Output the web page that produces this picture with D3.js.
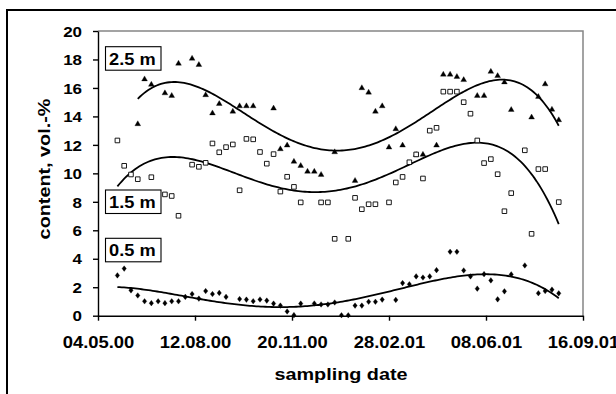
<!DOCTYPE html>
<html>
<head>
<meta charset="utf-8">
<script src="https://cdn.jsdelivr.net/npm/d3@7/dist/d3.min.js"></script>
<style>
  html, body { margin: 0; padding: 0; background: #fff; }
  svg { display: block; }
  text { font-family: "Liberation Sans", Arial, Helvetica, sans-serif; font-weight: bold; fill: #000; }
</style>
</head>
<body>
<svg id="chart" width="616" height="394"></svg>
<script>
// ---------------- DATA ----------------
const axisStart = "2000-05-04";
const axisEnd = "2001-09-16";
const xTickDates = ["2000-05-04", "2000-08-12", "2000-11-20", "2001-02-28", "2001-06-08", "2001-09-16"];
const yTicks = [0, 2, 4, 6, 8, 10, 12, 14, 16, 18, 20];
const firstSampling = "2000-05-24";           // weekly sampling afterwards
const weeks = [0,1,2,3,4,5,6,7,8,9,10,11,12,13,14,15,16,17,18,19,20,21,22,23,24,25,26,27,28,29,30,31,32,
               33,34,35,36,37,38,39,40,41,42,43,44,45,46,47,48,49,50,51,52,53,54,55,56,57,58,59,60,61,62,63,64,65];
const depthLabels = ["2.5 m", "1.5 m", "0.5 m"];

const depth25 = [null,null,null,13.5,16.65,16.27,null,15.67,15.49,17.75,null,18.1,17.66,15.54,14.26,14.92,null,14.38,14.76,14.76,14.76,null,null,14.6,11.74,12.0,10.86,10.57,10.16,10.16,9.94,null,11.53,null,null,9.52,16.03,15.72,14.38,14.76,11.86,13.15,12.0,null,11.33,11.35,null,12.0,16.98,16.98,16.82,16.6,null,15.49,15.49,17.18,16.88,16.44,14.5,null,null,13.97,15.42,16.3,14.52,13.78];
const depth15 = [12.31,10.53,9.92,9.59,null,9.73,null,8.52,8.41,7.02,null,10.61,10.46,10.74,12.1,11.48,11.84,12.03,8.81,12.42,12.39,11.5,10.68,11.35,8.72,9.76,9.05,7.96,null,null,7.96,7.96,5.40,null,5.40,8.28,7.48,7.83,7.83,null,7.96,9.36,9.75,10.78,11.33,9.64,13.0,13.2,15.74,15.74,15.74,15.0,14.19,12.31,10.72,11.0,9.94,7.34,8.61,null,11.62,5.75,10.3,10.3,null,7.98];
const depth05 = [2.83,3.31,1.78,1.42,1.01,0.88,1.01,0.88,1.01,1.01,1.32,1.52,1.2,1.73,1.52,1.6,1.32,null,1.17,1.13,1.02,1.14,1.06,0.85,0.71,0.3,0.04,0.85,null,0.86,0.79,0.79,0.93,0.03,0.03,0.71,0.71,0.98,0.98,1.13,null,1.11,2.29,2.21,2.76,2.68,2.76,3.2,null,4.49,4.49,3.18,2.76,1.9,2.92,2.48,1.15,1.71,2.9,null,3.53,null,1.58,1.73,1.83,1.57];
const trendOrder = [4, 4, 4];   // polynomial trendline order per depth

// ---------------- LAYOUT ----------------
const svg = d3.select("#chart");
const plot = { left: 98, right: 583, top: 31, bottom: 315.7 };
const parse = d3.utcParse("%Y-%m-%d");
const DAY = 864e5;
const t0 = parse(axisStart);

const x = d3.scaleUtc().domain([t0, parse(axisEnd)]).range([plot.left, plot.right]);
const y = d3.scaleLinear().domain([0, 20]).range([plot.bottom, plot.top]);

const sampleDates = weeks.map(w => new Date(parse(firstSampling).getTime() + w * 7 * DAY));

function toPoints(vals) {
  return vals.map((v, i) => ({ date: sampleDates[i], v })).filter(d => d.v !== null);
}
const series = [depth25, depth15, depth05].map(toPoints);

// outer frame
svg.append("rect").attr("x", 7).attr("y", 10).attr("width", 700).attr("height", 500)
  .attr("fill", "none").attr("stroke", "#000").attr("stroke-width", 2);

// grey plot border (top & right)
svg.append("path")
  .attr("d", `M${plot.left},${plot.top}H${plot.right}V${plot.bottom}`)
  .attr("fill", "none").attr("stroke", "#858585").attr("stroke-width", 1.5);

// axes
const yAxis = d3.axisLeft(y).tickValues(yTicks).tickSize(5).tickSizeOuter(0).tickFormat(d3.format("d"));
const gy = svg.append("g").attr("transform", `translate(${plot.left},0)`).call(yAxis);
gy.selectAll("path, line").attr("stroke", "#000").attr("stroke-width", 1.4);
gy.selectAll("text")
  .attr("x", null).attr("dy", null)
  .attr("transform", "translate(-16,5.2) scale(1.17,1)")
  .attr("text-anchor", "end")
  .style("font-size", "14.5px");

const xAxis = d3.axisBottom(x).tickValues(xTickDates.map(parse)).tickSize(5).tickSizeOuter(0)
  .tickFormat(d3.utcFormat("%d.%m.%y"));
const gx = svg.append("g").attr("transform", `translate(0,${plot.bottom})`).call(xAxis);
gx.selectAll("path, line").attr("stroke", "#000").attr("stroke-width", 1.4);
gx.selectAll("text")
  .attr("y", null).attr("dy", null)
  .attr("transform", "translate(0,32.5) scale(1.15,1)")
  .attr("text-anchor", "middle")
  .style("font-size", "16px");
svg.selectAll("g").attr("font-family", null).attr("font-size", null);

// axis titles
svg.append("text").text("sampling date")
  .attr("transform", "translate(341,380) scale(1.2,1)")
  .attr("text-anchor", "middle").style("font-size", "16.5px");
svg.append("text").text("content, vol.-%")
  .attr("transform", "translate(50,169) rotate(-90) scale(1.2,1)")
  .attr("text-anchor", "middle").style("font-size", "16.5px");

// ---------------- TRENDLINES (least squares polynomial) ----------------
function polyfit(xs, ys, deg) {
  const n = deg + 1;
  const A = Array.from({ length: n }, () => new Array(n + 1).fill(0));
  xs.forEach((xv, k) => {
    for (let r = 0; r < n; r++) {
      for (let c = 0; c < n; c++) A[r][c] += Math.pow(xv, r + c);
      A[r][n] += ys[k] * Math.pow(xv, r);
    }
  });
  for (let i = 0; i < n; i++) {
    let p = i;
    for (let r = i + 1; r < n; r++) if (Math.abs(A[r][i]) > Math.abs(A[p][i])) p = r;
    [A[i], A[p]] = [A[p], A[i]];
    for (let r = 0; r < n; r++) {
      if (r === i) continue;
      const f = A[r][i] / A[i][i];
      for (let c = i; c <= n; c++) A[r][c] -= f * A[i][c];
    }
  }
  return A.map((row, i) => row[n] / row[i]);
}
const tNorm = d => ((d.getTime() - t0.getTime()) / DAY - 250) / 250;

const line = d3.line().x(d => x(d.date)).y(d => y(d.v)).curve(d3.curveLinear);
series.forEach((pts, si) => {
  const coef = polyfit(pts.map(p => tNorm(p.date)), pts.map(p => p.v), trendOrder[si]);
  const a = pts[0].date.getTime(), b = pts[pts.length - 1].date.getTime();
  const curve = d3.range(0, 201).map(i => {
    const date = new Date(a + (b - a) * i / 200);
    const t = tNorm(date);
    const v = coef.reduce((s, c, k) => s + c * Math.pow(t, k), 0);
    return { date, v };
  });
  svg.append("path").datum(curve).attr("d", line)
    .attr("fill", "none").attr("stroke", "#000").attr("stroke-width", 1.8);
});

// ---------------- MARKERS ----------------
const markerPaths = [
  "M0,-2.8L2.9,2.2L-2.9,2.2Z",                 // triangle
  "M-2.3,-2.3H2.3V2.3H-2.3Z",                  // open square
  "M0,-2.8L2.2,0L0,2.8L-2.2,0Z"                // diamond
];
series.forEach((pts, si) => {
  svg.append("g").selectAll("path").data(pts).join("path")
    .attr("transform", d => `translate(${x(d.date)},${y(d.v)})`)
    .attr("d", markerPaths[si])
    .attr("fill", si === 1 ? "#fff" : "#000")
    .attr("stroke", "#000")
    .attr("stroke-width", si === 1 ? 0.9 : 0.3);
});

// ---------------- DEPTH LABEL BOXES ----------------
const boxTops = [46.7, 190, 238.3];
const labelG = svg.append("g");
depthLabels.forEach((lab, i) => {
  labelG.append("rect").attr("x", 105.5).attr("y", boxTops[i]).attr("width", 55.5).attr("height", 23.5)
    .attr("fill", "#fff").attr("stroke", "#000").attr("stroke-width", 1.1);
  labelG.append("text").text(lab)
    .attr("transform", `translate(109,${boxTops[i] + 18}) scale(1.14,1)`)
    .style("font-size", "16px");
});
</script>
</body>
</html>
